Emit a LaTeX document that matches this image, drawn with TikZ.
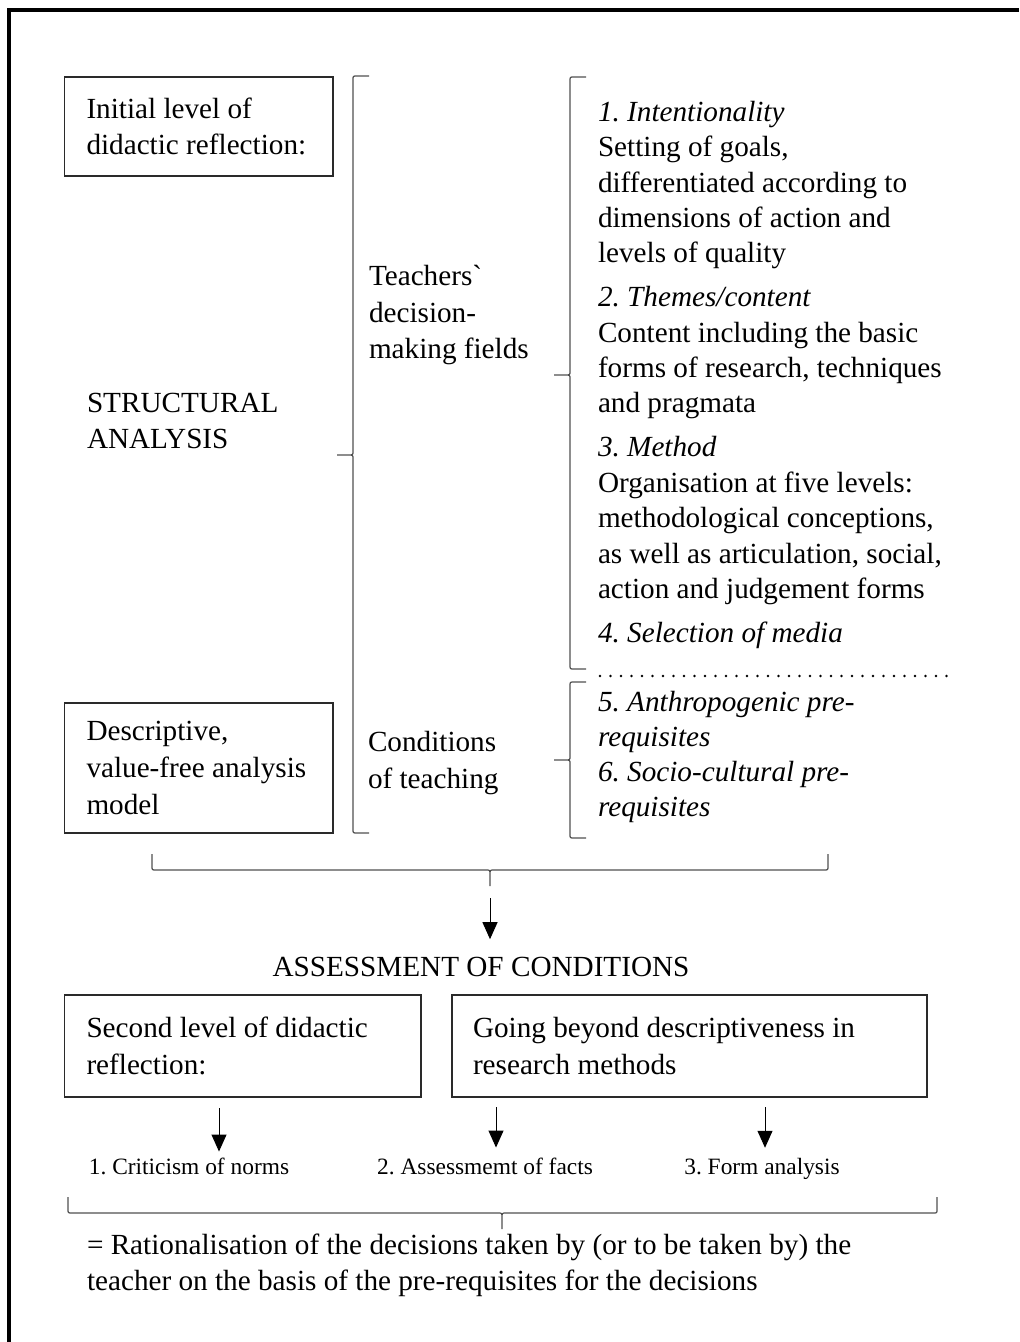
\documentclass[tikz,border=0pt]{standalone}
\usepackage{fontspec}
\setmainfont{Liberation Serif}
\frenchspacing
\usetikzlibrary{arrows.meta, positioning}
\definecolor{boxline}{HTML}{2A2A2A}
\definecolor{braceline}{HTML}{505050}

% brace with the tip to the left: line x, top y, bottom y, tip y
\newcommand{\leftbrace}[4]{%
  \draw[brc] (#1+16,#2) -- (#1+4,#2) .. controls (#1,#2) .. (#1,#2+4)
    -- (#1,#4-4) .. controls (#1,#4) .. (#1-5,#4) -- (#1-16,#4)
    (#1-5,#4) .. controls (#1,#4) .. (#1,#4+4)
    -- (#1,#3-4) .. controls (#1,#3) .. (#1+4,#3) -- (#1+16,#3);}
% brace with the tip downwards: line y, left x, right x, tip x
\newcommand{\downbrace}[4]{%
  \draw[brc] (#2,#1-16) -- (#2,#1-4) .. controls (#2,#1) .. (#2+4,#1)
    -- (#4-4,#1) .. controls (#4,#1) .. (#4,#1+5) -- (#4,#1+16)
    (#4,#1+5) .. controls (#4,#1) .. (#4+4,#1)
    -- (#3-4,#1) .. controls (#3,#1) .. (#3,#1-4) -- (#3,#1-16);}

\begin{document}
\begin{tikzpicture}[
  x=0.5pt, y=-0.5pt,
  every node/.style={inner sep=0pt, outer sep=0pt},
  txt/.style={align=left, font=\fontsize{14.6}{18.3}\selectfont},
  col/.style={align=left, font=\fontsize{14.6}{17.7}\selectfont, anchor=north west},
  box/.style={draw=boxline, line width=0.75pt, anchor=north west},
  small/.style={font=\fontsize{11.7}{14}\selectfont, anchor=base},
  brc/.style={draw=braceline, line width=0.6pt},
  arr/.style={-{Triangle[length=8.5pt, width=7.5pt]}, line width=0.5pt},
]
\useasboundingbox (0,0) rectangle (1019,1342);
\draw[line width=1.6pt] (9,1342) -- (9,10) -- (1019,10);

% left column
\node[box, minimum width=134.25pt, minimum height=49.5pt] (initbox) at (64.5,77) {};
\node[txt, anchor=west] (inittxt) at ([xshift=11pt]initbox.west) {Initial level of\\didactic reflection:};
\node[txt, anchor=west] (struct) at (87,421) {STRUCTURAL\\ANALYSIS};
\node[box, minimum width=134.25pt, minimum height=65pt] (descbox) at (64.5,703) {};
\node[txt, anchor=west] (desctxt) at ([xshift=11pt]descbox.west) {Descriptive,\\value-free analysis\\model};

% middle column
\node[txt, anchor=west] (fields) at (369,315) {Teachers\textasciigrave\\decision-\\making fields};
\node[txt, anchor=west] (cond) at (368,763) {Conditions\\of teaching};

% right column
\node[col] (items) at (598,101) {\textit{1. Intentionality}\\Setting of goals,\\differentiated according to\\dimensions of action and\\levels of quality\\[4.25pt]
  \textit{2. Themes/content}\\Content including the basic\\forms of research, techniques\\and pragmata\\[4.25pt]
  \textit{3. Method}\\Organisation at five levels:\\methodological conceptions,\\as well as articulation, social,\\action and judgement forms\\[4.25pt]
  \textit{4. Selection of media}};
\draw[line width=1.4pt, line cap=round, dash pattern=on 0pt off 5.25pt] (600,676) -- (947,676);
\node[col, font=\fontsize{14.6}{17.5}\selectfont] (prereq) at (598,691) {\textit{5. Anthropogenic pre-}\\\textit{requisites}\\\textit{6. Socio-cultural pre-}\\\textit{requisites}};

% braces
\leftbrace{353}{76}{833}{455}
\leftbrace{570}{77}{669}{375}
\leftbrace{570}{682}{838}{760}
\downbrace{870}{152}{828}{490}
\coordinate (toptip) at (490,898);

% assessment
\node[txt] (assess) at (481,967) {ASSESSMENT OF CONDITIONS};
\draw[arr, shorten >=9pt] (toptip) -- (toptip |- assess.north);

\node[box, minimum width=178.25pt, minimum height=51pt] (secbox) at (64.5,995) {};
\node[txt, anchor=west] (sectxt) at ([xshift=11pt]secbox.west) {Second level of didactic\\reflection:};
\node[box, minimum width=237.5pt, minimum height=51pt] (beyondbox) at (452,995) {};
\node[txt, anchor=west] (beyondtxt) at ([xshift=10.5pt]beyondbox.west) {Going beyond descriptiveness in\\research methods};

\node[small] (crit) at (189,1174) {1. Criticism of norms};
\node[small] (facts) at (485,1174) {2. Assessmemt of facts};
\node[small] (form) at (762,1174) {3. Form analysis};
\coordinate (c1) at (219,1108);
\coordinate (c2) at (496,1107);
\coordinate (c3) at (765,1107);
\draw[arr, shorten >=3pt] (c1) -- (c1 |- crit.north);
\draw[arr, shorten >=5pt] (c2) -- (c2 |- facts.north);
\draw[arr, shorten >=5pt] (c3) -- (c3 |- form.north);

\downbrace{1213}{68}{937}{502}
\node[txt, anchor=north west, font=\fontsize{14.6}{18}\selectfont] (ratio) at (87,1234) {= Rationalisation of the decisions taken by (or to be taken by) the\\teacher on the basis of the pre-requisites for the decisions};
\end{tikzpicture}
\end{document}
